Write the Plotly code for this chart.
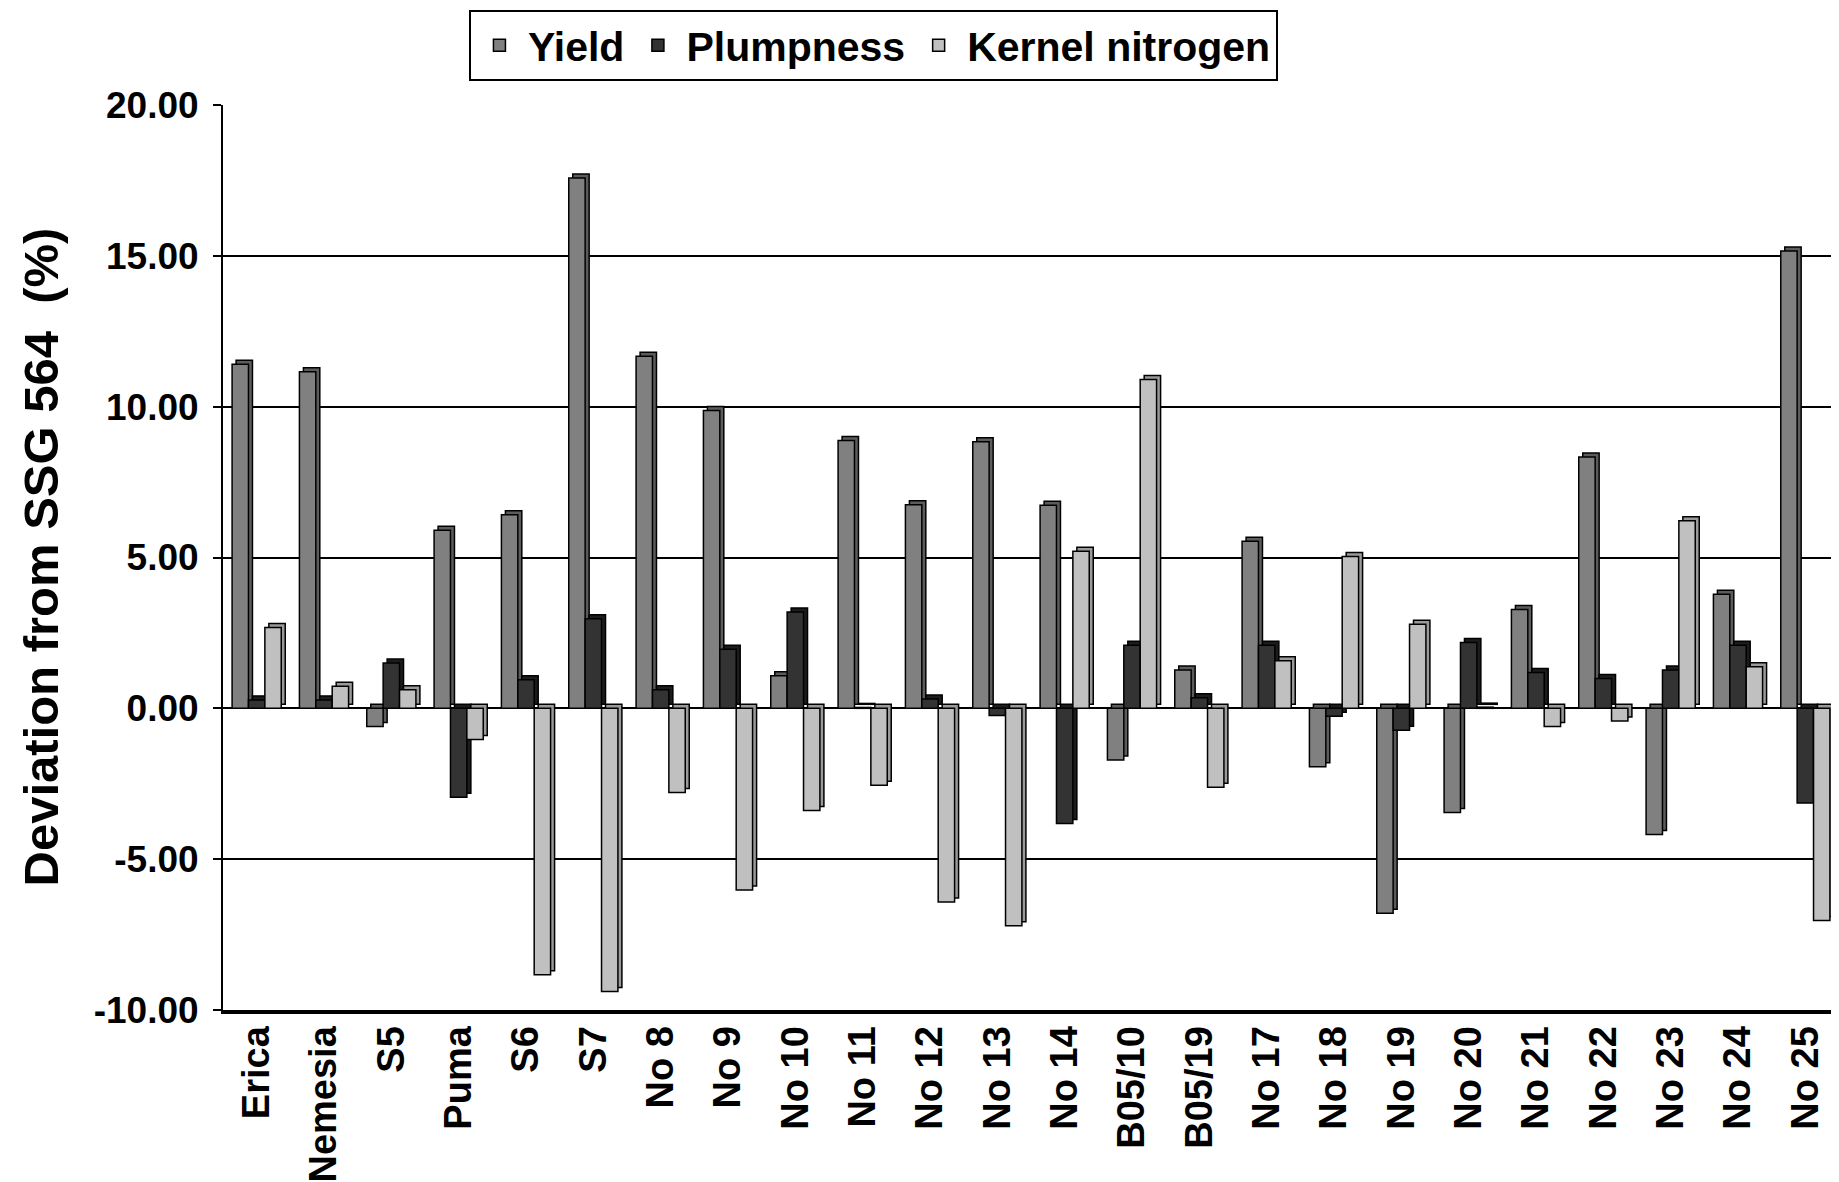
import plotly.graph_objects as go

categories = ["Erica", "Nemesia", "S5", "Puma", "S6", "S7", "No 8", "No 9", "No 10",
              "No 11", "No 12", "No 13", "No 14", "B05/10", "B05/19", "No 17", "No 18",
              "No 19", "No 20", "No 21", "No 22", "No 23", "No 24", "No 25"]

yield_vals = [11.41, 11.16, -0.60, 5.90, 6.42, 17.58, 11.67, 9.87, 1.08,
              8.88, 6.75, 8.84, 6.73, -1.71, 1.27, 5.54, -1.94,
              -6.79, -3.45, 3.28, 8.33, -4.18, 3.78, 15.16]

plumpness_vals = [0.28, 0.28, 1.50, -2.95, 0.95, 2.97, 0.62, 1.96, 3.19,
                  0.03, 0.31, -0.24, -3.82, 2.09, 0.35, 2.09, -0.26,
                  -0.73, 2.18, 1.19, 0.99, 1.27, 2.09, -3.14]

nitrogen_vals = [2.68, 0.73, 0.62, -1.03, -8.83, -9.39, -2.79, -6.02, -3.39,
                 -2.55, -6.42, -7.21, 5.21, 10.90, -2.62, 1.58, 5.03,
                 2.79, 0.04, -0.60, -0.42, 6.22, 1.38, -7.03]

y_tick_vals = [-10, -5, 0, 5, 10, 15, 20]
y_tick_text = ["-10.00", "-5.00", "0.00", "5.00", "10.00", "15.00", "20.00"]

# (name, values, front colour, side colour)
series = [
    ("Yield", yield_vals, "#808080", "#5c5c5c"),
    ("Plumpness", plumpness_vals, "#333333", "#1c1c1c"),
    ("Kernel nitrogen", nitrogen_vals, "#c0c0c0", "#9a9a9a"),
]

FONT = "Liberation Sans, Arial, sans-serif"

# The page body adds an 8 px margin, so the figure is 8 px smaller than the window
W, H = 1831, 1174
M_L, M_R, M_T, M_B = 215, 0, 97, 172
plot_h = H - M_T - M_B
plot_w = W - M_L - M_R

Y_MIN, Y_MAX = -10, 20
N_CAT = len(categories)
BAR_GAP = 0.27
bar_w = (1 - BAR_GAP) / len(series)
depth_px = 4
depth_x = depth_px * N_CAT / plot_w          # in category units
depth_y = depth_px * (Y_MAX - Y_MIN) / plot_h  # in data units

fig = go.Figure()
# side/top faces (drawn first, behind the fronts)
for i, (name, vals, color, side) in enumerate(series):
    off = -(1 - BAR_GAP) / 2 + i * bar_w
    fig.add_trace(go.Bar(
        x=categories, y=vals, base=[depth_y] * len(vals),
        offset=off + depth_x, width=bar_w, name=name, showlegend=False,
        marker=dict(color=side, line=dict(color="black", width=1.5)),
        hoverinfo="skip",
    ))
# front faces
for i, (name, vals, color, side) in enumerate(series):
    off = -(1 - BAR_GAP) / 2 + i * bar_w
    fig.add_trace(go.Bar(
        x=categories, y=vals, offset=off, width=bar_w, name=name,
        marker=dict(color=color, line=dict(color="black", width=1.5)),
    ))

fig.update_layout(
    width=W, height=H,
    margin=dict(l=M_L, r=M_R, t=M_T, b=M_B, autoexpand=False),
    paper_bgcolor="white", plot_bgcolor="white",
    barmode="overlay",
    font=dict(family=FONT, color="black"),
    legend=dict(
        orientation="h", x=0.4025, xanchor="center",
        y=1 + (M_T - 2) / plot_h, yanchor="top",
        font=dict(family=FONT, size=41, weight="bold", color="black"),
        bordercolor="black", borderwidth=2, bgcolor="white",
        tracegroupgap=0, itemwidth=47,
    ),
    xaxis=dict(
        type="category", range=[-0.5, N_CAT - 0.5], automargin=False,
        tickangle=-90, tickfont=dict(family=FONT, size=38, weight="bold", color="black"),
        showline=True, linecolor="black", linewidth=4, showgrid=False, ticks="",
        ticklabelstandoff=-3,
    ),
    yaxis=dict(
        range=[Y_MIN, Y_MAX], automargin=False,
        tickvals=y_tick_vals, ticktext=y_tick_text,
        tickfont=dict(family=FONT, size=37, weight="bold", color="black"),
        showgrid=True, gridcolor="black", gridwidth=2,
        zeroline=False,
        showline=True, linecolor="black", linewidth=2,
        ticks="outside", ticklen=8, tickwidth=2, tickcolor="black",
        ticklabelstandoff=7,
    ),
    annotations=[dict(
        text="<b>Deviation from SSG 564  (%)</b>", textangle=-90,
        xref="paper", yref="paper", x=(32 - M_L) / plot_w, y=0.5,
        xanchor="center", yanchor="middle", showarrow=False,
        font=dict(family=FONT, size=49, color="black"),
    )],
)

fig.write_html("out.html")
